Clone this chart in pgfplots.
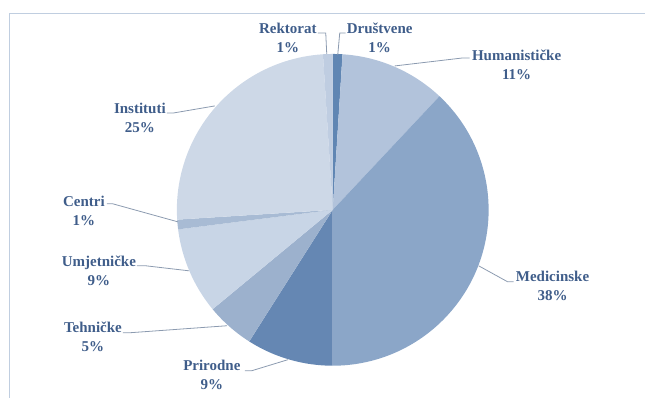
\documentclass[border=0pt]{standalone}
\usepackage{pgfplots}
\pgfplotsset{compat=1.18}
\usepackage{fontspec}
\setmainfont{Liberation Serif}
\definecolor{cDru}{HTML}{6086B3}
\definecolor{cHum}{HTML}{B2C3DB}
\definecolor{cMed}{HTML}{8BA6C8}
\definecolor{cPri}{HTML}{6587B3}
\definecolor{cTeh}{HTML}{9CB1CD}
\definecolor{cUmj}{HTML}{C8D5E6}
\definecolor{cCen}{HTML}{A8BBD4}
\definecolor{cIns}{HTML}{CDD8E7}
\definecolor{cRek}{HTML}{BFCDE1}
\definecolor{txt}{HTML}{3F5D8A}
\definecolor{lead}{HTML}{8C9BB0}
\definecolor{frame}{HTML}{C0CEE0}
\begin{document}
\begin{tikzpicture}
\begin{axis}[width=645bp, height=398bp, scale only axis,
  xmin=0, xmax=645, ymin=0, ymax=398, y dir=reverse,
  hide axis, clip=false]
\path (axis cs:0,0) rectangle (axis cs:645,398);
\draw[frame, line width=1bp] (axis cs:10,398) -- (axis cs:10,14) -- (axis cs:645,14);
\pgfplotsextra{
  \gdef\cum{0}
  \foreach \p/\c in {1/cDru,11/cHum,38/cMed,9/cPri,5/cTeh,9/cUmj,1/cCen,25/cIns,1/cRek}{
    \pgfmathsetmacro\sa{90-3.6*\cum}
    \pgfmathsetmacro\sb{90-3.6*(\cum+\p)}
    \fill[\c] (axis cs:333,210) -- ++(\sa:156bp) arc[start angle=\sa, end angle=\sb, radius=156bp] -- cycle;
    \pgfmathsetmacro\cumnew{\cum+\p}
    \xdef\cum{\cumnew}
  }
}
\draw[lead, line width=0.8bp] (axis cs:318,33) -- (axis cs:326,33) -- (axis cs:327,54);
\draw[lead, line width=0.8bp] (axis cs:346,33) -- (axis cs:340,33) -- (axis cs:338,55);
\draw[lead, line width=0.8bp] (axis cs:470,58) -- (axis cs:463,58) -- (axis cs:395,66);
\draw[lead, line width=0.8bp] (axis cs:514,282) -- (axis cs:508,282) -- (axis cs:479,266);
\draw[lead, line width=0.8bp] (axis cs:245,371) -- (axis cs:252,371) -- (axis cs:288,360);
\draw[lead, line width=0.8bp] (axis cs:123,333) -- (axis cs:130,333) -- (axis cs:227,326);
\draw[lead, line width=0.8bp] (axis cs:137,266) -- (axis cs:146,266) -- (axis cs:189,271);
\draw[lead, line width=0.8bp] (axis cs:107,204) -- (axis cs:113,204) -- (axis cs:178,222);
\draw[lead, line width=0.8bp] (axis cs:167,113) -- (axis cs:174,113) -- (axis cs:215,106);
\tikzset{lbl/.style={align=center, text=txt, inner sep=0pt,
  font=\fontsize{15bp}{18.5bp}\selectfont\bfseries}}
\node[lbl] at (axis cs:288,38) {Rektorat\\1\%};
\node[lbl] at (axis cs:380,38) {Društvene\\1\%};
\node[lbl] at (axis cs:517,65) {Humanističke\\11\%};
\node[lbl] at (axis cs:553,286) {Medicinske\\38\%};
\node[lbl] at (axis cs:212,375) {Prirodne\\9\%};
\node[lbl] at (axis cs:93,337) {Tehničke\\5\%};
\node[lbl] at (axis cs:99,271) {Umjetničke\\9\%};
\node[lbl] at (axis cs:84,211) {Centri\\1\%};
\node[lbl] at (axis cs:140,118) {Instituti\\25\%};
\end{axis}
\end{tikzpicture}
\end{document}
